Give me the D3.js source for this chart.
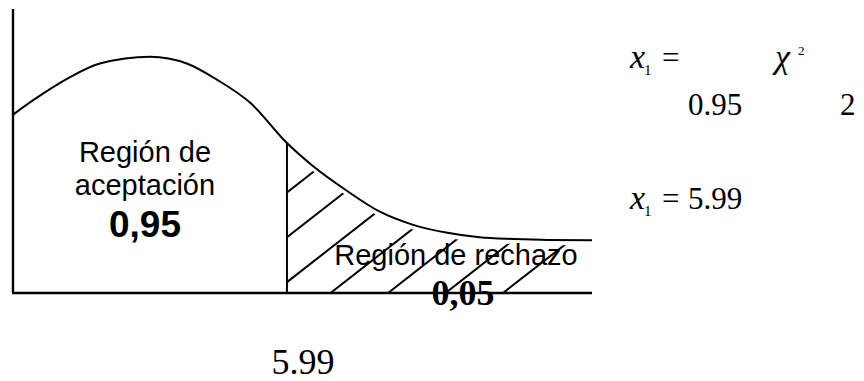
<!DOCTYPE html>
<html>
<head>
<meta charset="utf-8">
<script src="https://cdn.jsdelivr.net/npm/d3@7"></script>
<style>
  html, body { margin: 0; padding: 0; background: #fff; }
  svg { display: block; }
</style>
</head>
<body>
<svg id="chart" width="864" height="381"></svg>
<script>
// Density curve (schematic) sampled along the x axis
const curveX = [0, 0.45, 1.2, 1.9, 3.0, 3.8, 4.45, 5.2, 5.99, 6.55, 7.3, 8.0, 8.75, 9.5, 10.2, 10.95, 11.7, 12.66];
const curveY = [0.157, 0.170, 0.189, 0.202, 0.208, 0.202, 0.188, 0.167, 0.132, 0.112, 0.090, 0.072, 0.060, 0.053, 0.049, 0.0475, 0.0467, 0.0465];

// Test parameters
const criticalValue = 5.99;
const confidence = 0.95;
const alpha = 0.05;
const degreesOfFreedom = 2;

// Region labels
const acceptLabel = ["Región de", "aceptación"];
const rejectLabel = "Región de rechazo";

const fmtComma = v => v.toFixed(2).replace(".", ",");
const fmtDot = v => v.toFixed(2);

const svg = d3.select("#chart");
const x = d3.scaleLinear().domain([0, 12.66]).range([13, 592]);
const y = d3.scaleLinear().domain([0, 0.25]).range([293, 9]);

const pts = curveX.map((v, i) => ({ x: v, y: curveY[i] }));
const smooth = d3.curveMonotoneX;
const line = d3.line().x(d => x(d.x)).y(d => y(d.y)).curve(smooth);

// Rejection region: clip for the hatching (kept a few pixels below the curve)
const tail = pts.filter(d => d.x >= criticalValue);
const tailArea = d3.area()
  .x(d => x(d.x))
  .y0(y(0))
  .y1(d => y(d.y) + 5)
  .curve(smooth);

const defs = svg.append("defs");
defs.append("clipPath").attr("id", "tailClip")
  .append("path")
  .attr("d", tailArea(tail));

// Hatch lines
const slope = 0.78;
const hatchStart = 158, hatchStep = 57.5, hatchCount = 7;
const hatch = svg.append("g").attr("clip-path", "url(#tailClip)");
d3.range(hatchCount).forEach(i => {
  const x0 = hatchStart + i * hatchStep;
  const len = 300;
  hatch.append("line")
    .attr("x1", x0).attr("y1", y(0))
    .attr("x2", x0 + len).attr("y2", y(0) - len * slope)
    .attr("stroke", "#000").attr("stroke-width", 2);
});

// Axes
svg.append("line")
  .attr("x1", x(0)).attr("y1", 9)
  .attr("x2", x(0)).attr("y2", y(0))
  .attr("stroke", "#000").attr("stroke-width", 2.4);
svg.append("line")
  .attr("x1", x(0) - 1).attr("y1", y(0))
  .attr("x2", x(12.66)).attr("y2", y(0))
  .attr("stroke", "#000").attr("stroke-width", 2.4);

// Critical value marker
const critIdx = curveX.indexOf(criticalValue);
svg.append("line")
  .attr("x1", x(criticalValue)).attr("y1", y(curveY[critIdx]))
  .attr("x2", x(criticalValue)).attr("y2", y(0))
  .attr("stroke", "#000").attr("stroke-width", 2);

// Density curve
svg.append("path")
  .attr("d", line(pts))
  .attr("fill", "none")
  .attr("stroke", "#000")
  .attr("stroke-width", 2);

const sans = "'Liberation Sans', Arial, sans-serif";
const serif = "'Liberation Serif', 'Times New Roman', serif";

// Acceptance region label
svg.append("text").attr("x", 145).attr("y", 162)
  .attr("text-anchor", "middle").attr("font-family", sans).attr("font-size", 29)
  .text(acceptLabel[0]);
svg.append("text").attr("x", 145).attr("y", 195)
  .attr("text-anchor", "middle").attr("font-family", sans).attr("font-size", 29)
  .text(acceptLabel[1]);
svg.append("text").attr("x", 145).attr("y", 237)
  .attr("text-anchor", "middle").attr("font-family", sans).attr("font-size", 37)
  .attr("font-weight", "bold")
  .text(fmtComma(confidence));

// Rejection region label
svg.append("text").attr("x", 456).attr("y", 265)
  .attr("text-anchor", "middle").attr("font-family", sans).attr("font-size", 29)
  .text(rejectLabel);
svg.append("text").attr("x", 463).attr("y", 305)
  .attr("text-anchor", "middle").attr("font-family", serif).attr("font-size", 36)
  .attr("font-weight", "bold")
  .text(fmtComma(alpha));

// Critical value under the axis
svg.append("text").attr("x", x(criticalValue) + 16).attr("y", 374)
  .attr("text-anchor", "middle").attr("font-family", serif).attr("font-size", 36)
  .text(fmtDot(criticalValue));

// Formula block
function mathX(g, left, base) {
  g.append("text").attr("x", left).attr("y", base)
    .attr("font-family", serif).attr("font-size", 34).attr("font-style", "italic")
    .text("x");
  g.append("text").attr("x", left + 14).attr("y", base + 7)
    .attr("font-family", serif).attr("font-size", 15)
    .text("1");
  g.append("text").attr("x", left + 32).attr("y", base)
    .attr("font-family", serif).attr("font-size", 31)
    .text("=");
}
const eq = svg.append("g");
mathX(eq, 630, 68);
eq.append("text").attr("x", 775).attr("y", 68)
  .attr("font-family", serif).attr("font-size", 34).attr("font-style", "italic")
  .text("χ");
eq.append("text").attr("x", 798).attr("y", 55)
  .attr("font-family", serif).attr("font-size", 13)
  .text("2");
eq.append("text").attr("x", 688).attr("y", 115)
  .attr("font-family", serif).attr("font-size", 31)
  .text(fmtDot(confidence));
eq.append("text").attr("x", 840).attr("y", 115)
  .attr("font-family", serif).attr("font-size", 31)
  .text(degreesOfFreedom);

mathX(eq, 630, 209);
eq.append("text").attr("x", 688).attr("y", 209)
  .attr("font-family", serif).attr("font-size", 31)
  .text(fmtDot(criticalValue));
</script>
</body>
</html>
